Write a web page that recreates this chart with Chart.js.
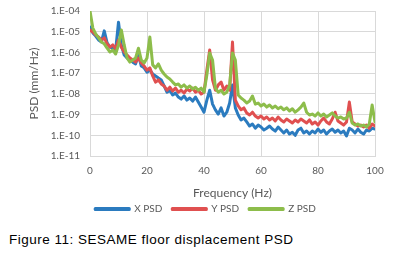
<!DOCTYPE html>
<html>
<head>
<meta charset="utf-8">
<script src="https://cdn.jsdelivr.net/npm/chart.js@4.4.0/dist/chart.umd.min.js"></script>
<style>
  body { margin: 0; background: #fff; }
  #wrap { position: relative; width: 395px; height: 224px; }
  #caption { position: absolute; left: 9px; top: 232px; font: 13.5px "Liberation Sans", Arial, sans-serif; letter-spacing: 0.5px; color: #000; white-space: nowrap; }
</style>
</head>
<body>
<div id="wrap"><canvas id="psdChart"></canvas></div>
<div id="caption">Figure 11: SESAME floor displacement PSD</div>
<script>
// frequency (Hz)
const freq = [0,1,2,3,4,5,6,7,8,9,10,11,12,13,14,15,16,17,18,19,20,
  21,22,23,24,25,26,27,28,29,30,31,32,33,34,35,36,37,38,39,40,
  41,42,43,44,45,46,47,48,49,50,51,52,53,54,55,56,57,58,59,60,
  61,62,63,64,65,66,67,68,69,70,71,72,73,74,75,76,77,78,79,80,
  81,82,83,84,85,86,87,88,89,90,91,92,93,94,95,96,97,98,99,100];

// PSD (mm/Hz)
const xPsd = [1.7e-5,8.7e-6,6.2e-6,4.0e-6,3.2e-6,1.1e-5,2.9e-6,1.8e-6,1.6e-6,1.3e-6,2.9e-5,
  2.3e-6,7.5e-7,5.4e-7,4.3e-7,3.4e-7,2.8e-7,7.5e-7,2.2e-7,1.8e-7,1.1e-7,
  1.4e-7,9.1e-8,7.3e-8,5.8e-8,4.7e-8,2.4e-8,1.2e-8,1.5e-8,8.8e-9,1.1e-8,
  7.0e-9,5.6e-9,7.9e-9,5.0e-9,6.3e-9,4.5e-9,7.0e-9,4.0e-9,2.3e-9,1.3e-9,
  5.0e-9,1.5e-8,3.2e-9,1.7e-9,1.06e-9,2.1e-9,8.5e-10,1.3e-9,3.6e-9,2.7e-8,
  2.1e-9,9.5e-10,5.5e-10,6.8e-10,4.4e-10,2.8e-10,3.5e-10,2.2e-10,3.1e-10,2.5e-10,
  1.8e-10,2.2e-10,2.8e-10,2.0e-10,1.6e-10,2.5e-10,1.8e-10,1.3e-10,1.8e-10,1.15e-10,
  1.4e-10,1.0e-10,1.8e-10,2.2e-10,1.3e-10,1.6e-10,1.15e-10,1.6e-10,1.3e-10,2.0e-10,
  1.4e-10,1.8e-10,1.15e-10,1.6e-10,2.0e-10,1.4e-10,1.8e-10,1.3e-10,1.6e-10,9.2e-11,
  2.2e-10,1.8e-10,1.3e-10,2.0e-10,1.4e-10,1.15e-10,1.8e-10,1.6e-10,2.2e-10,2.0e-10];

const yPsd = [1.2e-5,9.7e-6,6.9e-6,5.6e-6,4.0e-6,5.0e-6,2.6e-6,1.8e-6,2.3e-6,1.5e-6,4.0e-6,
  1.8e-6,1.05e-6,7.5e-7,5.4e-7,4.3e-7,3.4e-7,5.4e-7,3.1e-7,2.2e-7,1.4e-7,
  1.8e-7,7.3e-8,3.7e-8,4.7e-8,3.0e-8,2.4e-8,1.5e-8,2.1e-8,1.37e-8,1.9e-8,
  1.2e-8,1.5e-8,1.1e-8,1.7e-8,1.37e-8,1.9e-8,1.2e-8,1.5e-8,9.8e-9,1.2e-8,
  1.4e-7,1.3e-6,4.7e-8,1.5e-8,2.7e-8,3.7e-8,1.5e-8,2.4e-8,1.5e-8,3.2e-6,
  5.0e-9,2.6e-9,1.7e-9,2.1e-9,1.2e-9,9.5e-10,1.3e-9,8.5e-10,6.8e-10,8.5e-10,
  6.1e-10,7.6e-10,5.5e-10,6.8e-10,4.9e-10,7.6e-10,5.5e-10,4.4e-10,6.1e-10,4.9e-10,
  3.9e-10,5.5e-10,4.4e-10,6.1e-10,4.9e-10,3.9e-10,5.5e-10,3.5e-10,4.4e-10,3.1e-10,
  4.9e-10,6.8e-10,4.4e-10,3.5e-10,6.1e-10,1.3e-9,4.9e-10,3.9e-10,3.1e-10,4.4e-10,
  4.0e-9,4.4e-10,3.5e-10,2.8e-10,3.1e-10,2.5e-10,3.1e-10,2.2e-10,3.5e-10,2.8e-10];

const zPsd = [1.0e-4,1.5e-5,7.8e-6,5.0e-6,3.2e-6,2.6e-6,1.6e-6,1.05e-6,1.3e-6,8.4e-7,2.3e-6,
  1.2e-5,2.3e-6,5.4e-7,3.4e-7,4.3e-7,5.4e-7,1.6e-6,4.3e-7,3.1e-7,5.4e-7,
  5.6e-6,2.5e-7,1.8e-7,2.8e-7,1.4e-7,9.1e-8,6.5e-8,5.2e-8,3.7e-8,2.7e-8,
  3.0e-8,2.1e-8,2.7e-8,1.9e-8,2.4e-8,1.7e-8,2.1e-8,1.5e-8,1.9e-8,1.2e-8,
  8.1e-8,9.4e-7,4.3e-7,1.9e-8,1.2e-8,1.5e-8,9.8e-9,1.2e-8,2.7e-8,9.4e-7,
  4.3e-7,8.8e-9,6.3e-9,5.0e-9,3.6e-9,4.5e-9,7.9e-9,3.2e-9,3.6e-9,2.6e-9,
  3.2e-9,2.3e-9,2.9e-9,2.1e-9,2.6e-9,1.9e-9,2.3e-9,1.7e-9,2.1e-9,1.5e-9,
  1.9e-9,1.3e-9,1.7e-9,2.3e-9,3.6e-9,1.3e-9,9.5e-10,1.06e-9,8.5e-10,1.2e-9,
  8.5e-10,1.06e-9,7.6e-10,9.5e-10,1.2e-9,8.5e-10,6.8e-10,7.6e-10,6.1e-10,6.8e-10,
  1.3e-9,3.9e-10,3.1e-10,3.5e-10,2.8e-10,3.1e-10,2.5e-10,3.5e-10,2.9e-9,4.4e-10];

const yTickValues = [1e-11, 1e-10, 1e-9, 1e-8, 1e-7, 1e-6, 1e-5, 1e-4];
const yTickLabels = ['1.E-11', '1.E-10', '1.E-09', '1.E-08', '1.E-07', '1.E-06', '1.E-05', '1.E-04'];

const textGrey = '#595959';
const gridGrey = '#d9d9d9';

new Chart(document.getElementById('psdChart').getContext('2d'), {
  type: 'line',
  data: {
    labels: freq,
    datasets: [
      { label: 'X PSD', data: xPsd, borderColor: '#2b7bbf', backgroundColor: '#2b7bbf', order: 3 },
      { label: 'Y PSD', data: yPsd, borderColor: '#e05050', backgroundColor: '#e05050', order: 2 },
      { label: 'Z PSD', data: zPsd, borderColor: '#8dbd4b', backgroundColor: '#8dbd4b', order: 1 }
    ]
  },
  options: {
    responsive: true,
    maintainAspectRatio: false,
    animation: false,
    layout: { padding: { left: 36, right: 20, top: 11, bottom: 0 } },
    elements: {
      line: { borderWidth: 3, tension: 0, borderJoinStyle: 'round', borderCapStyle: 'round' },
      point: { radius: 0 }
    },
    scales: {
      x: {
        type: 'linear',
        min: 0,
        max: 100,
        afterFit: function (scale) { scale.height = 38; },
        ticks: { stepSize: 20, color: textGrey, font: { family: 'Lato', size: 10 }, padding: 9, maxRotation: 0 },
        grid: { color: gridGrey, drawTicks: false },
        border: { color: gridGrey },
        title: { display: true, text: 'Frequency (Hz)', color: textGrey, font: { family: 'Lato', size: 12 }, padding: { top: 0, bottom: -6 } }
      },
      y: {
        type: 'logarithmic',
        min: 1e-11,
        max: 1e-4,
        afterBuildTicks: function (scale) {
          scale.ticks = yTickValues.map(v => ({ value: v }));
        },
        afterFit: function (scale) {
          scale.width = 54;
          scale.paddingTop = 0;
          scale.paddingBottom = 0;
        },
        ticks: {
          color: textGrey,
          font: { family: 'Lato', size: 10 },
          padding: 10,
          callback: function (value) {
            const i = yTickValues.indexOf(value);
            return i >= 0 ? yTickLabels[i] : null;
          }
        },
        grid: { color: gridGrey, drawTicks: false },
        border: { color: gridGrey },
        title: { display: true, text: 'PSD (mm/Hz)', color: textGrey, font: { family: 'Lato', size: 12 }, padding: { top: -9, bottom: 0 } }
      }
    },
    plugins: {
      legend: {
        display: true,
        position: 'bottom',
        labels: {
          boxWidth: 34,
          boxHeight: 1,
          padding: 10,
          color: textGrey,
          font: { family: 'Lato', size: 10 },
          sort: (a, b) => a.datasetIndex - b.datasetIndex
        }
      },
      tooltip: { enabled: false }
    }
  }
});
</script>
</body>
</html>
